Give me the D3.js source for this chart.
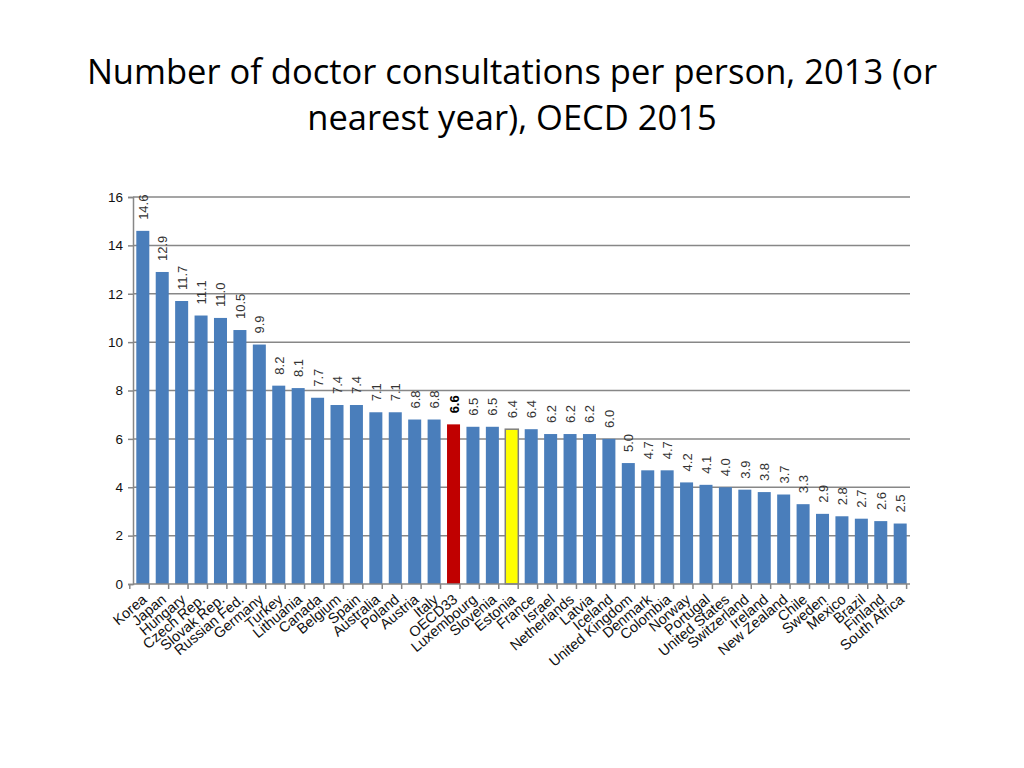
<!DOCTYPE html>
<html>
<head>
<meta charset="utf-8">
<script src="https://cdn.jsdelivr.net/npm/d3@7"></script>
<style>
body{margin:0;background:#fff;}
</style>
</head>
<body>
<div id="chart-area"></div>
<script>
var countries=["Korea","Japan","Hungary","Czech Rep.","Slovak Rep.","Russian Fed.","Germany","Turkey","Lithuania","Canada","Belgium","Spain","Australia","Poland","Austria","Italy","OECD33","Luxembourg","Slovenia","Estonia","France","Israel","Netherlands","Latvia","Iceland","United Kingdom","Denmark","Colombia","Norway","Portugal","United States","Switzerland","Ireland","New Zealand","Chile","Sweden","Mexico","Brazil","Finland","South Africa"];
var consultations=[14.6,12.9,11.7,11.1,11.0,10.5,9.9,8.2,8.1,7.7,7.4,7.4,7.1,7.1,6.8,6.8,6.6,6.5,6.5,6.4,6.4,6.2,6.2,6.2,6.0,5.0,4.7,4.7,4.2,4.1,4.0,3.9,3.8,3.7,3.3,2.9,2.8,2.7,2.6,2.5];
var yTicks=[0,2,4,6,8,10,12,14,16];
var titleLines=["Number of doctor consultations per person, 2013 (or","nearest year), OECD 2015"];

var data=countries.map(function(c,i){ return {country:c, value:consultations[i]}; });

var margin={left:133, top:197, right:114, bottom:184};
var width=1024-margin.left-margin.right;
var height=768-margin.top-margin.bottom;

var root=d3.select('#chart-area').append('svg')
    .attr('width',1024)
    .attr('height',768);

root.selectAll(".title")
    .data(titleLines)
    .enter()
    .append("text")
    .attr("class","title")
    .attr("x",512)
    .attr("y",function(d,i){ return 84+i*46; })
    .attr("text-anchor","middle")
    .attr("font-family","'Open Sans', Lato, sans-serif")
    .attr("font-size","34.5px")
    .attr("fill","#000")
    .text(function(d){ return d; });

var svg=root.append("g")
    .attr("transform","translate("+margin.left+","+margin.top+")");

var x=d3.scaleBand()
    .domain(countries)
    .range([0,width])
    .paddingInner(0.33)
    .paddingOuter(0.17);

var y=d3.scaleLinear()
    .domain([0,16])
    .range([height,0]);

// gridlines
svg.append("g")
    .attr("class","grid")
    .selectAll("line")
    .data(yTicks.filter(function(d){ return d>0; }))
    .enter()
    .append("line")
    .attr("x1",0)
    .attr("x2",width)
    .attr("y1",function(d){ return y(d); })
    .attr("y2",function(d){ return y(d); })
    .attr("stroke","#878787")
    .attr("stroke-width",1.5);

// y axis
var yAxisCall=d3.axisLeft(y)
    .tickValues(yTicks)
    .tickSize(5)
    .tickFormat(function(d){ return d; });
var yAxis=svg.append("g")
    .attr("class","y axis")
    .call(yAxisCall);
yAxis.select(".domain").attr("stroke","#878787").attr("stroke-width",1.5);
yAxis.selectAll(".tick line").attr("stroke","#878787").attr("stroke-width",1.5);
yAxis.selectAll("text")
    .attr("font-family","Arial, 'Liberation Sans', sans-serif")
    .attr("font-size","13.5px")
    .attr("fill","#111")
    .attr("x",-10);

// bars
svg.selectAll("rect.bar")
    .data(data)
    .enter()
    .append("rect")
    .attr("class","bar")
    .attr("x",function(d){ return x(d.country); })
    .attr("y",function(d){ return y(d.value); })
    .attr("width",x.bandwidth())
    .attr("height",function(d){ return height-y(d.value); })
    .attr("fill",function(d){
        if(d.country=="OECD33") return "#c00000";
        if(d.country=="Estonia") return "#ffff00";
        return "#4a7ebb";
    })
    .attr("stroke",function(d){
        if(d.country=="Estonia") return "#7f7f7f";
        return "none";
    })
    .attr("stroke-width",1.5);

// x axis
var xAxis=svg.append("g")
    .attr("class","x axis")
    .attr("transform","translate(0,"+height+")");
xAxis.append("line")
    .attr("x1",0).attr("x2",width)
    .attr("y1",0).attr("y2",0)
    .attr("stroke","#878787")
    .attr("stroke-width",1.5);
var step=x.step();
var x0=x(countries[0])-x.paddingOuter()*step-x.paddingInner()*step/2;
xAxis.selectAll("line.tk")
    .data(d3.range(countries.length+1))
    .enter()
    .append("line")
    .attr("class","tk")
    .attr("x1",function(i){ return x0+i*step; })
    .attr("x2",function(i){ return x0+i*step; })
    .attr("y1",0).attr("y2",5)
    .attr("stroke","#878787")
    .attr("stroke-width",1.5);
xAxis.selectAll("text")
    .data(countries)
    .enter()
    .append("text")
    .attr("transform",function(d){
        return "translate("+(x(d)+x.bandwidth()/2+5)+",17) rotate(-40)";
    })
    .attr("text-anchor","end")
    .attr("font-family","Arial, 'Liberation Sans', sans-serif")
    .attr("font-size","14.5px")
    .attr("fill","#111")
    .text(function(d){ return d; });

// value labels
svg.selectAll("text.val")
    .data(data)
    .enter()
    .append("text")
    .attr("class","val")
    .attr("transform",function(d){
        return "translate("+(x(d.country)+x.bandwidth()/2+5)+","+(y(d.value)-11)+") rotate(-90)";
    })
    .attr("font-family","Arial, 'Liberation Sans', sans-serif")
    .attr("font-size","13px")
    .attr("font-weight",function(d){ return d.country=="OECD33" ? "bold" : "normal"; })
    .attr("fill",function(d){ return d.country=="OECD33" ? "#000" : "#333"; })
    .text(function(d){ return d.value.toFixed(1); });
</script>
</body>
</html>
